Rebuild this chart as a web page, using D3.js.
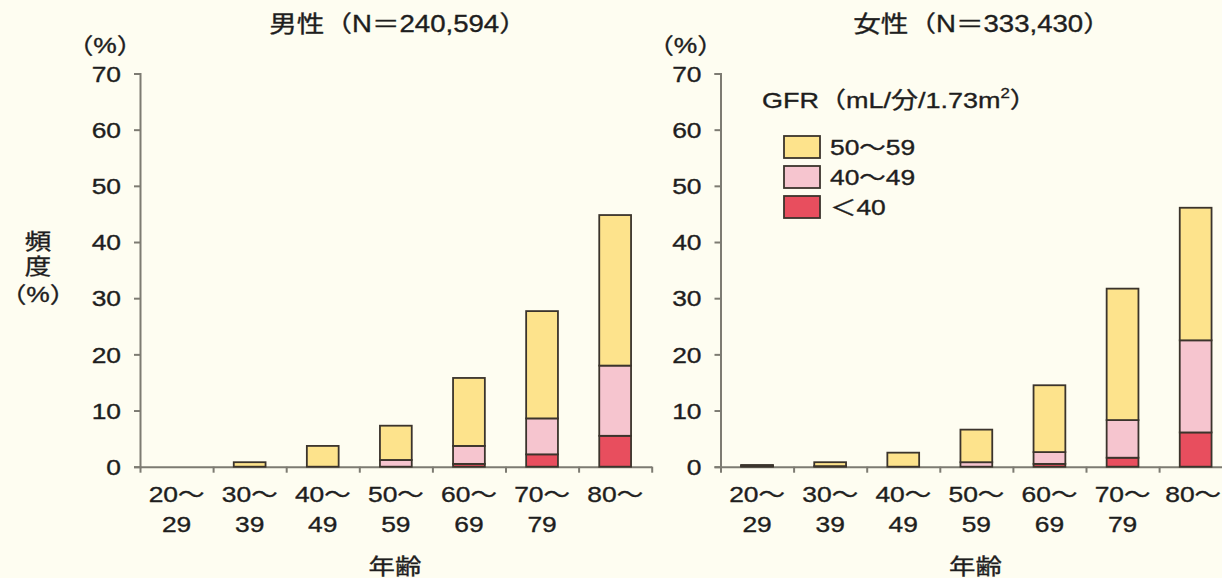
<!DOCTYPE html>
<html>
<head>
<meta charset="utf-8">
<script src="https://cdn.jsdelivr.net/npm/d3@7"></script>
<style>
  html, body { margin: 0; padding: 0; background: #FEFDF1; }
  svg { display: block; }
  text { font-family: 'Liberation Sans', 'Noto Sans CJK JP', sans-serif; fill: #1e1e1e; stroke: #1e1e1e; stroke-width: 0.35px; }
</style>
</head>
<body>
<svg id="chart" width="1222" height="578"></svg>
<script>
// ---- data ----
const categories = ["20-29", "30-39", "40-49", "50-59", "60-69", "70-79", "80-"];
const tickTop = ["20〜", "30〜", "40〜", "50〜", "60〜", "70〜", "80〜"];
const tickBottom = ["29", "39", "49", "59", "69", "79", ""];
const yTicks = [0, 10, 20, 30, 40, 50, 60, 70];
const seriesKeys = ["lt40", "g40_49", "g50_59"];
const seriesLabels = ["＜40", "40〜49", "50〜59"];

const maleLt40   = [0, 0, 0, 0, 0.5, 2.2, 5.5];
const male40_49  = [0, 0, 0, 1.2, 3.2, 6.4, 12.5];
const male50_59  = [0, 0.8, 3.7, 6.1, 12.1, 19.1, 26.8];

const femaleLt40  = [0.1, 0, 0, 0, 0.5, 1.6, 6.1];
const female40_49 = [0.1, 0.1, 0, 0.8, 2.1, 6.7, 16.4];
const female50_59 = [0.1, 0.7, 2.5, 5.8, 11.9, 23.4, 23.6];

const maleTitle = "男性（N＝240,594）";
const femaleTitle = "女性（N＝333,430）";

// ---- style ----
const colors = { lt40: "#E84E5E", g40_49: "#F6C5CF", g50_59: "#FDE38C" };
const SX = 1.2; // horizontal text stretch of the reference
const FS = 22;
const W = 1222;
const axisColor = "#7d7b72";
const step = 73.1;
const yTop = 73.5, yBottom = 466.7;

const svg = d3.select("#chart");
svg.append("rect").attr("width", W).attr("height", 578).attr("fill", "#FEFDF1");

function txt(sel, x, y, s, anchor, size) {
  return sel.append("text")
    .attr("transform", `translate(${x},${y}) scale(${SX},1)`)
    .attr("text-anchor", anchor || "middle")
    .attr("dominant-baseline", "central")
    .attr("font-size", size || FS)
    .text(s);
}

const y = d3.scaleLinear().domain([0, 70]).range([yBottom, yTop]);

function panel(x0, title, titleX, a, b, c) {
  const g = svg.append("g");
  const rows = categories.map((cat, i) => ({ cat, lt40: a[i], g40_49: b[i], g50_59: c[i] }));
  const x = d3.scaleBand().domain(categories).range([x0, x0 + 7 * step])
    .paddingInner(0.565).paddingOuter(0.2825);
  const xb = d3.scaleLinear().domain([0, 7]).range([x0, x0 + 7 * step]);

  // axes
  const ya = g.append("g").attr("transform", `translate(${x0},0)`)
    .call(d3.axisLeft(y).tickValues(yTicks).tickSize(6).tickSizeOuter(6).tickPadding(14));
  ya.selectAll("text").attr("x", 0).attr("dy", null)
    .attr("transform", `translate(-19,0) scale(${SX},1)`)
    .attr("dominant-baseline", "central")
    .attr("font-size", FS).attr("font-family", null).attr("fill", null);
  const xa = g.append("g").attr("transform", `translate(0,${yBottom})`)
    .call(d3.axisBottom(xb).tickValues(d3.range(0, 8)).tickSize(6).tickSizeOuter(0).tickFormat(""));
  [ya, xa].forEach(s => {
    s.selectAll("path,line").attr("stroke", axisColor).attr("stroke-width", 2);
  });

  // bars
  const stacked = d3.stack().keys(seriesKeys)(rows);
  stacked.forEach(layer => {
    g.append("g").selectAll("rect")
      .data(layer.filter(d => d[1] - d[0] > 0))
      .join("rect")
      .attr("x", d => x(d.data.cat))
      .attr("width", x.bandwidth())
      .attr("y", d => y(d[1]))
      .attr("height", d => y(d[0]) - y(d[1]))
      .attr("fill", colors[layer.key])
      .attr("stroke", "#3b342c")
      .attr("stroke-width", 1.8);
  });

  // x tick labels (kept inside the page edge)
  categories.forEach((cat, i) => {
    let cx = x(cat) + x.bandwidth() / 2;
    const t = txt(g, cx, 494, tickTop[i], "middle");
    const half = t.node().getComputedTextLength() * SX / 2;
    if (cx + half > W - 1) {
      cx = W - 1 - half;
      t.attr("transform", `translate(${cx},494) scale(${SX},1)`);
    }
    if (tickBottom[i]) txt(g, cx, 524, tickBottom[i], "middle");
  });

  // titles and axis names
  txt(g, titleX, 24, title, "middle", 23);
  txt(g, x0 - 35, 45, "（%）", "middle");
  txt(g, x0 + 255, 566, "年齢", "middle");
  return g;
}

panel(140, maleTitle, 398, maleLt40, male40_49, male50_59);
panel(720.5, femaleTitle, 982, femaleLt40, female40_49, female50_59);

// y axis title
txt(svg, 38, 241, "頻", "middle");
txt(svg, 38, 266, "度", "middle");
txt(svg, 38, 294, "（%）", "middle");

// legend
const lg = svg.append("g");
const lt = txt(lg, 762, 100, "", "start", 22.5);
lt.append("tspan").text("GFR（mL/分/1.73m");
lt.append("tspan").attr("font-size", 14).attr("dy", -7).text("2");
lt.append("tspan").attr("dy", 7).text("）");
const legendOrder = ["g50_59", "g40_49", "lt40"];
legendOrder.forEach((k, i) => {
  const yy = 136 + i * 30;
  lg.append("rect").attr("x", 784).attr("y", yy).attr("width", 36).attr("height", 22)
    .attr("fill", colors[k]).attr("stroke", "#3b342c").attr("stroke-width", 1.8);
  txt(lg, 830, yy + 11, seriesLabels[seriesKeys.indexOf(k)], "start");
});
</script>
</body>
</html>
